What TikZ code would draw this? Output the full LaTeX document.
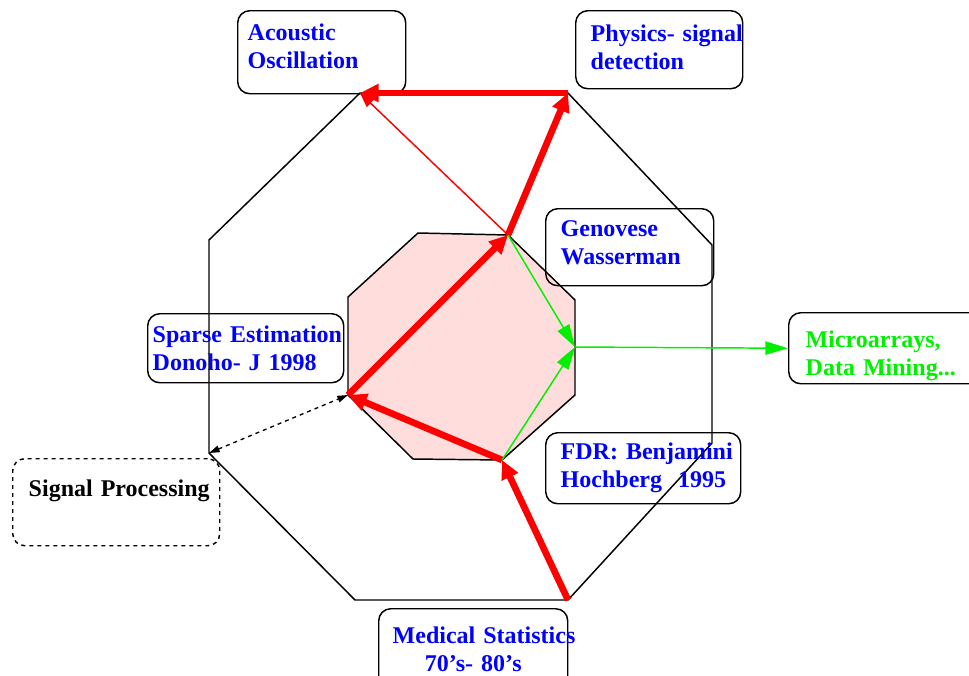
\documentclass[tikz,border=0pt]{standalone}
\usepackage{fontspec}
\setmainfont{Liberation Serif}
\usetikzlibrary{arrows.meta}
\definecolor{fillpink}{RGB}{255,221,221}
\definecolor{brightgreen}{RGB}{0,240,0}
\hyphenpenalty=10000
\exhyphenpenalty=10000
\begin{document}
\begin{tikzpicture}[
x=0.75pt,y=-0.75pt,
box/.style={draw,line width=1.1pt,rounded corners=9pt,anchor=north west,inner ysep=0pt,
  align=left,text=blue,font=\fontsize{18}{21}\selectfont\bfseries},
bigarrow/.style={red,line width=5pt,-{Triangle[length=14pt,width=13pt]}},
thinarrow/.style={red,line width=1.1pt,-{Triangle[length=11pt,width=8pt]}},
greenarrow/.style={brightgreen,line width=1.1pt,-{Triangle[length=17pt,width=10pt]}},
dasharrow/.style={dashed,line width=1pt,{Triangle[length=8pt,width=5pt]}-{Triangle[length=8pt,width=5pt]}}]
\useasboundingbox (0,0) rectangle (969,675);
\coordinate (o1) at (360,93);
\coordinate (o2) at (568,93);
\coordinate (o3) at (712,245);
\coordinate (o4) at (712,443);
\coordinate (o5) at (568,600);
\coordinate (o6) at (355,600);
\coordinate (o7) at (209,453);
\coordinate (o8) at (209,240);
\coordinate (i1) at (418,233);
\coordinate (i2) at (508,235);
\coordinate (i3) at (575,300);
\coordinate (i4) at (575,395);
\coordinate (i5) at (502,460);
\coordinate (i6) at (413,459);
\coordinate (i7) at (348,395);
\coordinate (i8) at (348,297);
\coordinate (m) at (575,347);
\draw[line width=1.1pt] (o1) -- (o2) -- (o3) -- (o4) -- (o5) -- (o6) -- (o7) -- (o8) -- cycle;
\draw[line width=1.1pt,fill=fillpink] (i1) -- (i2) -- (i3) -- (i4) -- (i5) -- (i6) -- (i7) -- (i8) -- cycle;
\node[box,inner xsep=7.5pt,text width=111pt,minimum height=62.25pt,text depth=30pt] (acou) at (237,10) {Acoustic\\Oscillation};
\node[box,inner xsep=11.25pt,text width=102.75pt,minimum height=58.5pt,text depth=25.5pt] (phys) at (575,10) {\mbox{Physics- signal}\\detection};
\node[box,inner xsep=11.25pt,text width=103.5pt,minimum height=57.75pt,text depth=28.5pt] (gen) at (545,208) {Genovese\\Wasserman};
\node[box,inner xsep=3.75pt,text width=139.5pt,minimum height=51.75pt] (sparse) at (147,313) {Sparse~Estimation\\Donoho- J 1998};
\node[box,inner xsep=12.75pt,text width=124.5pt,minimum height=53.25pt,text depth=13pt,text=brightgreen] (micro) at (788,312) {Microarrays,\\Data~Mining...};
\node[box,inner xsep=11.25pt,text width=123.75pt,minimum height=53.25pt] (fdr) at (545,432) {FDR:~Benjamini\\Hochberg~~1995};
\node[box,dashed,inner xsep=12pt,text width=131.25pt,minimum height=65.25pt,text=black] (sig) at (12,458) {Signal~Processing\\\mbox{}};
\node[box,align=center,inner xsep=10.5pt,text width=120.75pt,minimum height=61.5pt] (med) at (378,608) {Medical~Statistics\\70's- 80's};
\draw[bigarrow] (o5) -- (i5);
\draw[bigarrow] (i5) -- (i7);
\draw[bigarrow] (i7) -- (i2);
\draw[bigarrow] (i2) -- (o2);
\draw[bigarrow] (o2) -- (o1);
\draw[thinarrow] (i2) -- (o1);
\draw[greenarrow] (i2) -- (m);
\draw[greenarrow] (i5) -- (m);
\draw[greenarrow] (m) -- (micro.west);
\draw[dasharrow] (o7) -- (i7);
\end{tikzpicture}
\end{document}
